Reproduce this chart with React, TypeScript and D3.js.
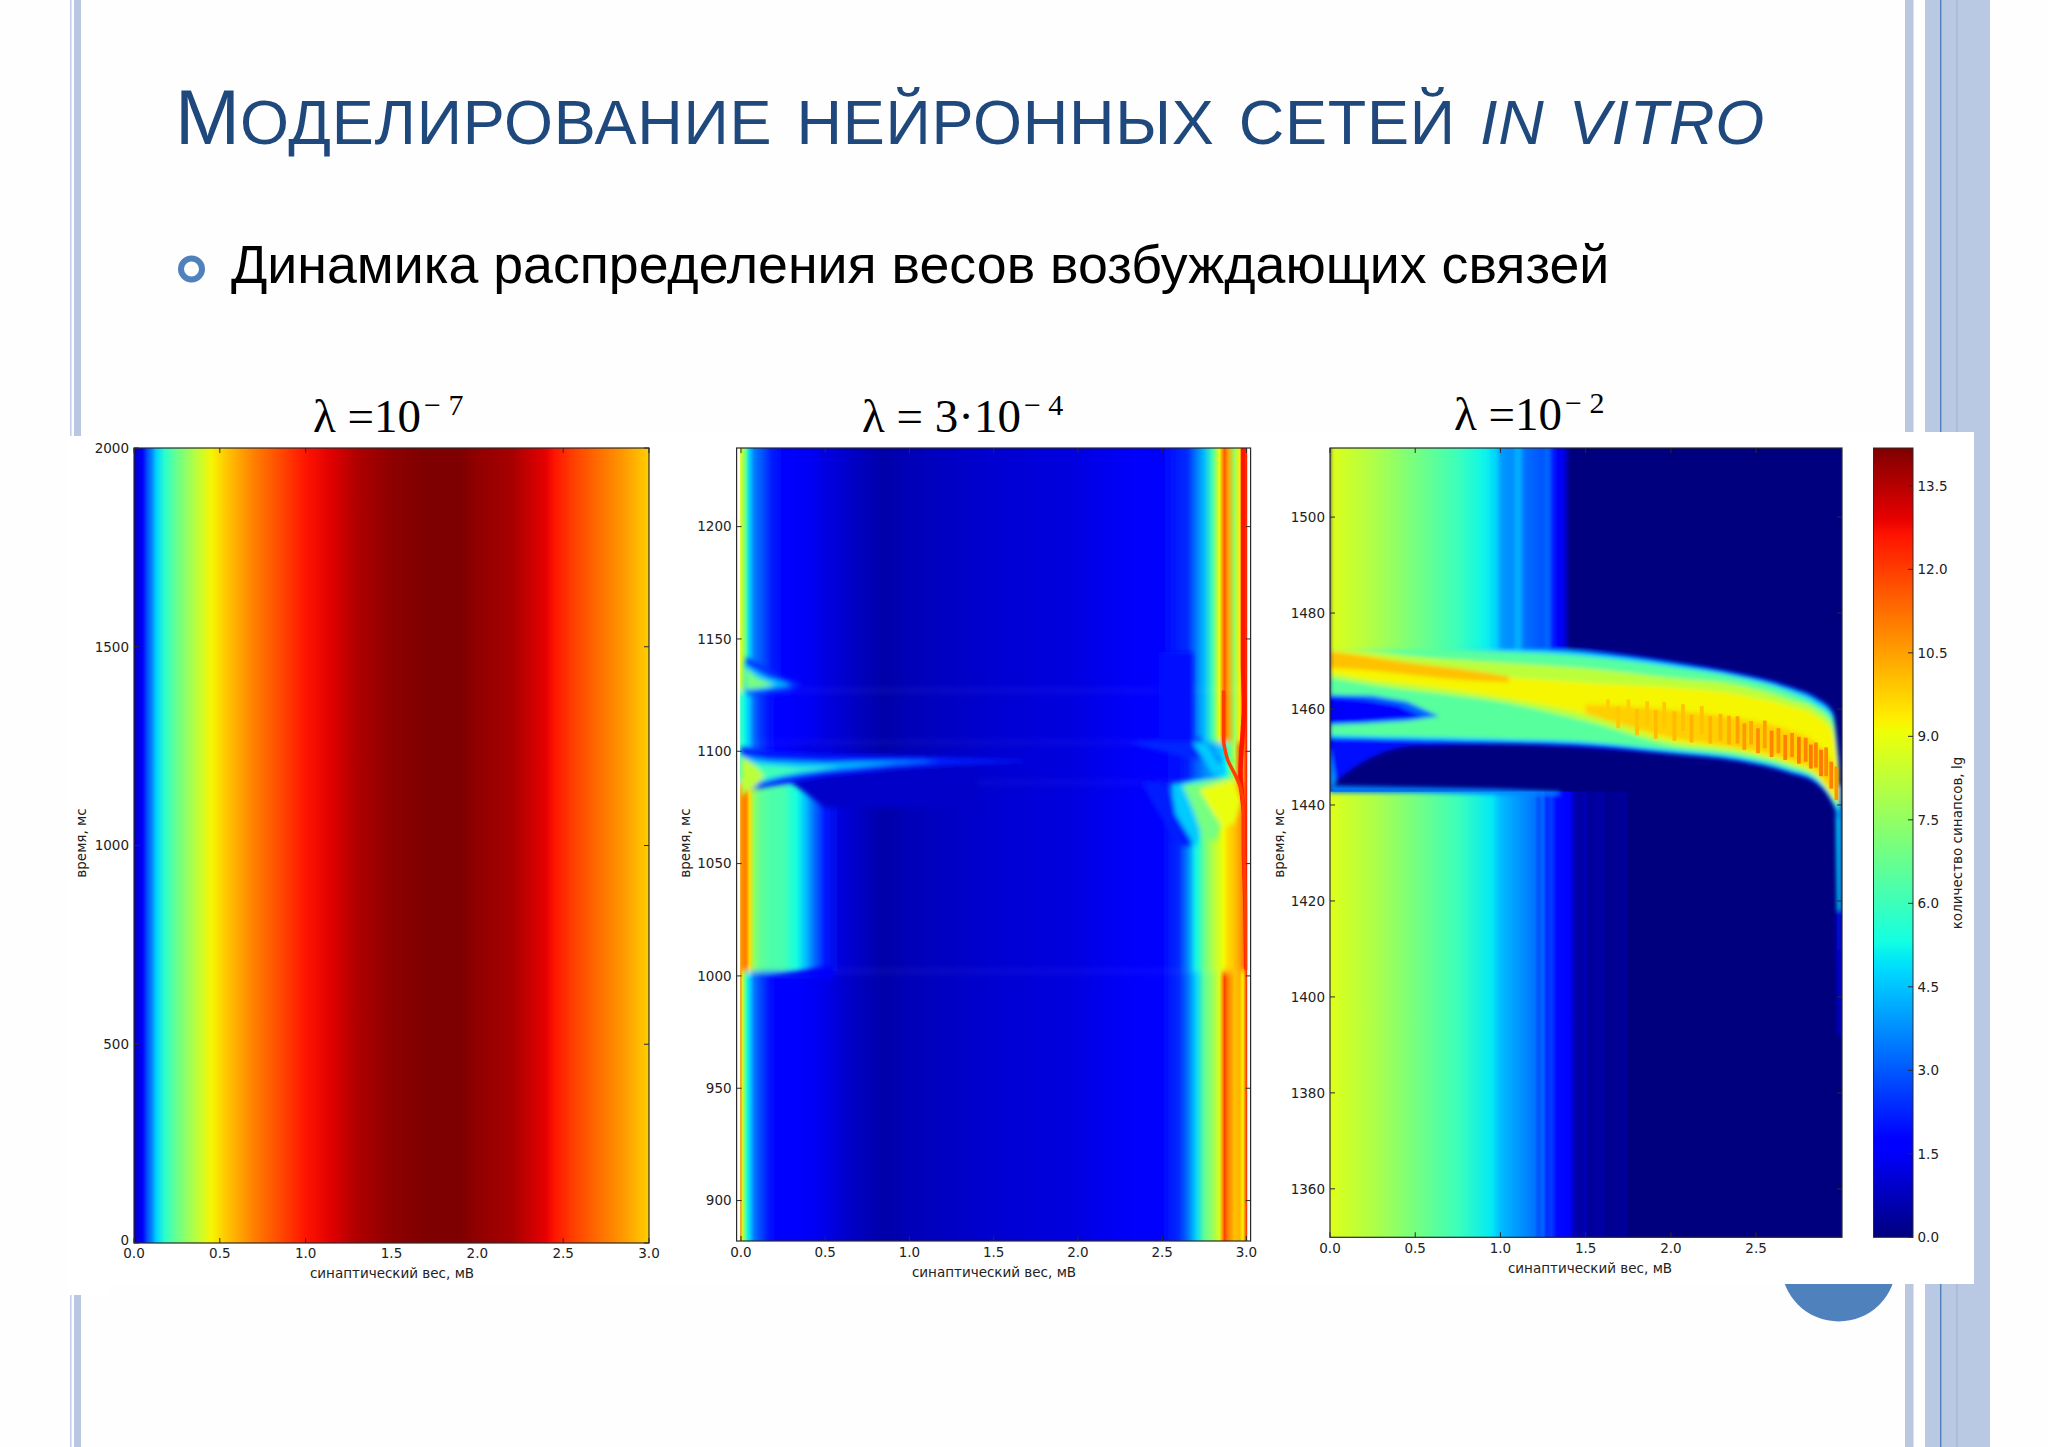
import React from 'react';
import * as d3 from 'd3';

// jet colormap, same breakpoints as matplotlib
const jetStops = [0, 0.11, 0.125, 0.34, 0.35, 0.375, 0.64, 0.65, 0.66, 0.89, 0.91, 1];
const jetColors = ['#00007f', '#0000ff', '#0000ff', '#00dbff', '#00e6f7', '#14ffe2', '#eeff08', '#f7f500', '#ffec00', '#ff1300', '#e80000', '#7f0000'];
const vMax = 14.18;
const cbTicks = [0, 1.5, 3, 4.5, 6, 7.5, 9, 10.5, 12, 13.5];

// panel 1: lambda = 1e-7, the profile does not change with time
const p1X = [0, 0.05, 0.08, 0.1, 0.13, 0.18, 0.25, 0.35, 0.45, 0.55, 0.7, 0.85, 1, 1.15, 1.3, 1.5, 1.7, 1.9, 2, 2.2, 2.3, 2.4, 2.45, 2.55, 2.7, 2.85, 3];
const p1V = [0.8, 1.6, 3, 3.5, 4.7, 5.7, 6.8, 8, 9.2, 10, 11, 11.8, 12.6, 13, 13.6, 14, 14.18, 14.18, 13.95, 13.7, 13.3, 12.9, 12.6, 12, 11.3, 10.6, 9.8];
const p1XTicks = [0, 0.5, 1, 1.5, 2, 2.5, 3];
const p1YTicks = [0, 500, 1000, 1500, 2000];

// panel 2: lambda = 3e-4, one profile per time range
const p2X = [-0.03, -0.01, 0.01, 0.03, 0.05, 0.08, 0.12, 0.18, 0.25, 0.33, 0.38, 0.43, 0.5, 0.6, 0.85, 1, 1.5, 2, 2.3, 2.5, 2.6, 2.65, 2.7, 2.75, 2.8, 2.84, 2.86, 2.87, 2.89, 2.93, 2.96, 2.98, 3, 3.03];
const p2Before = [11.5, 11.5, 8.5, 6, 4.8, 3.4, 2.7, 1.9, 1.6, 1.55, 1.5, 1.45, 1.3, 1, 0.5, 0.7, 1, 1.2, 1.5, 1.8, 2.4, 3.3, 4.7, 6.6, 7.6, 8.7, 10.8, 11.9, 11, 10, 10.2, 9.2, 12, 12];
const p2Stim = [10.5, 10.5, 10.8, 11, 9.6, 7.4, 6.6, 6.3, 6.2, 5.3, 4.5, 3.4, 2.1, 1.1, 0.5, 0.7, 1, 1.2, 1.5, 1.8, 2.4, 3.6, 5.2, 6.8, 8, 8.7, 9, 9.2, 9.6, 10, 10.5, 11, 12.3, 12.3];
const p2Shift = [6, 6, 5.6, 5, 4.4, 3.2, 2.5, 1.9, 1.6, 1.4, 1.3, 1.2, 1.2, 1, 0.5, 0.7, 1, 1.2, 1.5, 1.8, 2, 2.2, 3, 3.6, 4, 4.5, 4.8, 5, 6, 8, 11.5, 10.5, 12.3, 12.3];
const p2Quiet = [6, 6, 5.6, 5, 4.4, 3.2, 2.5, 1.9, 1.6, 1.5, 1.45, 1.4, 1.2, 1, 0.5, 0.7, 1, 1.2, 1.5, 1.8, 2.2, 2.4, 3.4, 4.4, 6.2, 9, 11.2, 11.5, 10.6, 7.6, 9.3, 10.8, 12.3, 12.3];
const p2After = [10, 9, 8, 6.5, 4.7, 3.5, 3, 2.2, 1.8, 1.5, 1.45, 1.4, 1.2, 1, 0.5, 0.7, 1, 1.2, 1.5, 1.8, 2.2, 2.4, 3.4, 4.4, 6.2, 9, 10.8, 11.5, 10.5, 7.6, 9.3, 10.8, 12.3, 12.3];
const p2Rows = [
  { from: 860, to: 1002, values: p2Before },
  { from: 1002, to: 1086, values: p2Stim },
  { from: 1086, to: 1104, values: p2Shift },
  { from: 1104, to: 1127, values: p2Quiet },
  { from: 1127, to: 1250, values: p2After },
];
const p2Patches = [
  { value: 1.5, x: [0.18, 0.55, 0.55, 0.18], t: [999.5, 1005, 999, 999] },
  { value: 0.9, x: [0.3, 0.5, 1.4, 1.4, 0.3], t: [1086, 1075, 1075, 1092, 1090] },
  { value: 2.4, x: [0.03, 0.25, 0.36, 0.28, 0.03], t: [1142, 1133, 1130, 1126, 1125.5] },
  { value: 4.4, x: [0.02, 0.16, 0.3, 0.14, 0.02], t: [1139, 1133, 1129.5, 1127.5, 1127] },
  { value: 7, x: [0.02, 0.1, 0.2, 0.1, 0.03], t: [1137.5, 1132.5, 1129.5, 1128, 1127.5] },
  { value: 2.2, x: [0, 0.15, 0.5, 0.9, 1.3, 1.75, 1.3, 0.9, 0.5, 0.25, 0], t: [1102, 1100, 1098.5, 1098, 1097, 1095.5, 1094, 1092, 1089, 1085.5, 1082] },
  { value: 4.4, x: [0, 0.16, 0.5, 0.9, 1.2, 0.9, 0.5, 0.25, 0], t: [1098, 1096, 1095, 1095.5, 1095.8, 1094.5, 1091.5, 1088.5, 1084] },
  { value: 6, x: [0, 0.15, 0.35, 0.6, 0.35, 0.2, 0], t: [1095, 1094, 1092.8, 1093, 1091, 1088.5, 1084] },
  { value: 8.2, x: [0, 0.08, 0.14, 0.08, 0], t: [1098, 1094, 1089, 1084, 1080] },
  { value: 2.3, x: [2.3, 2.72, 2.86, 2.6], t: [1104, 1106, 1095, 1098] },
  { value: 2, x: [2.48, 2.68, 2.68, 2.48], t: [1104, 1104, 1144, 1144] },
  { value: 2.2, x: [2.38, 2.5, 2.62, 2.68, 2.6, 2.45], t: [1086, 1086.5, 1075, 1058, 1058, 1076] },
  { value: 4.6, x: [2.68, 2.76, 2.88, 2.8], t: [1104, 1104, 1090, 1090] },
  { value: 4.6, x: [2.55, 2.8, 2.75, 2.7, 2.58], t: [1085.5, 1088, 1070, 1057, 1072] },
  { value: 7, x: [2.62, 2.9, 2.88, 2.82, 2.74, 2.68], t: [1085, 1088.5, 1075, 1060, 1062, 1075] },
  { value: 9, x: [2.72, 2.92, 2.97, 2.93, 2.86, 2.8], t: [1083, 1087.5, 1078, 1068, 1066, 1073] },
];
const p2RidgeT = [1003, 1030, 1060, 1072, 1085, 1090, 1096, 1100, 1105, 1112, 1127];
const p2RidgeX = [3, 2.995, 2.985, 2.985, 2.96, 2.93, 2.89, 2.875, 2.865, 2.865, 2.865];
const p2MainT = [1003, 1030, 1060, 1072, 1080, 1090, 1120, 1140, 1240];
const p2MainX = [3, 2.995, 2.985, 2.985, 2.975, 2.965, 2.985, 2.98, 2.98];
const p2XTicks = [0, 0.5, 1, 1.5, 2, 2.5, 3];
const p2YTicks = [900, 950, 1000, 1050, 1100, 1150, 1200];

// panel 3: lambda = 1e-2, the burst sits between two quiet profiles
const p3LowX = [0, 0.25, 0.5, 0.75, 0.95, 1, 1.1, 1.2, 1.22, 1.25, 1.27, 1.3, 1.33, 1.41, 1.42, 1.46, 1.5, 1.52, 1.6, 1.62, 1.74, 1.745, 2.9, 3];
const p3LowV = [8.8, 8, 7, 6, 5, 4.4, 3.9, 3.4, 2.9, 3.2, 2.4, 2.6, 1.9, 1.7, 1, 0.4, 0.7, 0.3, 0.5, 0.2, 0.35, 0, 0, 0];
const p3HighX = [0, 0.25, 0.5, 0.75, 0.9, 0.98, 1, 1.08, 1.09, 1.12, 1.13, 1.2, 1.27, 1.275, 1.285, 1.29, 1.33, 1.34, 1.38, 1.39, 1.4, 3];
const p3HighV = [8.8, 8, 7, 6, 5.2, 4.7, 3.9, 3.7, 4.3, 4.2, 3.4, 3.1, 2.9, 3.6, 3.6, 2.2, 1.9, 1.5, 1.3, 0.3, 0, 0];
const bandX = [0, 0.25, 0.5, 1, 1.5, 2, 2.4, 2.7, 2.85, 2.95, 2.985];
const bandOuter = [
  { value: 2, top: [1473.2, 1473.2, 1473.2, 1473, 1472.3, 1470, 1467.5, 1464.7, 1462.5, 1459.5, 1450], bottom: [1444, 1450, 1452.3, 1452.6, 1452, 1450.5, 1449, 1446.5, 1444.5, 1440, 1437] },
  { value: 4.6, top: [1473, 1473, 1473, 1472.6, 1471.8, 1469.5, 1467, 1464.2, 1462, 1459, 1449], bottom: [1454, 1453.8, 1453.6, 1453.2, 1452.7, 1451, 1449.5, 1447, 1445, 1440.5, 1437.5] },
  { value: 6.5, top: [1472.8, 1472.8, 1472.6, 1472, 1471, 1468.8, 1466.5, 1463.5, 1461, 1458, 1448], bottom: [1454.6, 1454.4, 1454.2, 1453.8, 1453.2, 1451.5, 1450, 1447.5, 1445.5, 1441, 1439] },
];
const bandInner = [
  { value: 8.2, top: [1472.6, 1472, 1471, 1469.7, 1468.5, 1466.5, 1465, 1462, 1460, 1456.5, 1447], bottom: [1466.5, 1465, 1463.8, 1461.5, 1457.5, 1452.5, 1450.8, 1448.2, 1446, 1441.5, 1440] },
  { value: 9.2, top: [1472.2, 1471, 1469.3, 1466.8, 1465.5, 1464.5, 1463, 1460.5, 1458.5, 1455, 1446], bottom: [1467.5, 1466, 1465, 1462.5, 1459, 1453.5, 1451.5, 1448.8, 1446.5, 1442, 1440.5] },
];
const hotX = [0, 0.25, 0.5, 0.8, 1.05];
const hotTop = [1472, 1470.8, 1469.5, 1468.2, 1466.8];
const hotBottom = [1468.6, 1468, 1467, 1466, 1465.6];
const warmX = [1.5, 2, 2.4, 2.7, 2.85, 2.95];
const warmTop = [1461, 1459.8, 1458, 1455.5, 1453, 1449];
const warmBottom = [1459, 1454, 1451.8, 1449.3, 1447, 1442.5];
const p3Patches = [
  { value: 2, x: [2.975, 3, 3, 2.985], t: [1418, 1418, 1392, 1392] },
  { value: 4.6, x: [2.965, 3, 3, 2.975], t: [1444, 1444, 1418, 1418] },
  { value: 3.6, x: [0, 0.5, 0.95, 1.35, 1.35, 0.5, 0], t: [1444, 1443.7, 1443.4, 1442.8, 1442, 1442.5, 1442.5] },
  { value: 4, x: [0, 0.035, 0.015, 0], t: [1452, 1444.5, 1444, 1444] },
  { value: 3.2, x: [0, 0.25, 0.45, 0.64, 0.45, 0.2, 0], t: [1463, 1462.8, 1461.6, 1458.5, 1457.5, 1457, 1456.7] },
  { value: 1.6, x: [0, 0.2, 0.4, 0.55, 0.35, 0.15, 0], t: [1462.5, 1462, 1460.8, 1458.2, 1457.8, 1457.2, 1457] },
];
// the orange streaks in the right half of the burst
const spikeX = [1.62, 1.68, 1.74, 1.79, 1.85, 1.9, 1.95, 2.01, 2.06, 2.11, 2.17, 2.22, 2.28, 2.33, 2.38, 2.42, 2.46, 2.5, 2.54, 2.58, 2.62, 2.66, 2.7, 2.74, 2.78, 2.81, 2.84, 2.87, 2.9, 2.93, 2.96];
const spikeTop = [1462, 1460.5, 1462, 1460, 1461.6, 1459.8, 1461.5, 1459.5, 1461, 1458.8, 1460.6, 1458.5, 1459, 1458.6, 1458.5, 1457, 1457.5, 1456, 1457.6, 1455.5, 1456, 1454.6, 1455, 1454.2, 1454, 1452.6, 1453, 1451.5, 1452, 1449, 1448];
const spikeBottom = [1458, 1456, 1457.4, 1454.5, 1456.5, 1453.8, 1456, 1453.4, 1455.4, 1453, 1454.8, 1452.8, 1453.4, 1452.6, 1452.8, 1451.5, 1452.6, 1450.8, 1451.8, 1450, 1450.8, 1449.4, 1450, 1448.6, 1449, 1447.6, 1447.8, 1446, 1446, 1443.4, 1441];
const spikeV = [9.8, 9.9, 9.8, 10, 9.9, 10.1, 9.9, 10.1, 10, 10.2, 10, 10.2, 10.2, 10.3, 10.5, 10.6, 10.4, 10.8, 10.5, 10.9, 10.7, 11, 10.8, 11.1, 10.9, 11.1, 10.9, 11.1, 10.8, 11, 10.7];
const p3XTicks = [0, 0.5, 1, 1.5, 2, 2.5];
const p3YTicks = [1360, 1380, 1400, 1420, 1440, 1460, 1480, 1500];

const titleCap = 'М';
const titleRest = 'ОДЕЛИРОВАНИЕ НЕЙРОННЫХ СЕТЕЙ ';
const titleItalic = 'IN VITRO';
const subtitle = 'Динамика распределения весов возбуждающих связей';
const xLabel = 'синаптический вес, мВ';
const yLabel = 'время, мс';
const cbLabel = 'количество синапсов, lg';

const W = 2048;
const H = 1447;
const TOP = 448;
const AXIS = '#2b2b2b';
const TEXT = '#222';
const TICK_FONT = '"DejaVu Sans", sans-serif';

const jet = d3.scaleLinear<string>().domain(jetStops.map(s => s * vMax)).range(jetColors);
const fmt = d3.format('.1f');

type Scale = d3.ScaleLinear<number, number>;

// row of a heatmap: a rect filled by a gradient with stops at the profile knots
const Row = ({ id, xs, values, x, y0, y1 }: { id: string; xs: number[]; values: number[]; x: Scale; y0: number; y1: number }) => {
  const [dx0, dx1] = x.domain();
  return (
    <g>
      <linearGradient id={id}>
        {xs.map((v, i) => (
          <stop key={i} offset={(v - dx0) / (dx1 - dx0)} stopColor={jet(values[i])} />
        ))}
      </linearGradient>
      <rect x={x.range()[0]} width={x.range()[1] - x.range()[0]} y={Math.min(y0, y1)} height={Math.abs(y1 - y0)} fill={`url(#${id})`} />
    </g>
  );
};

const Patch = ({ p, x, y }: { p: { value: number; x: number[]; t: number[] }; x: Scale; y: Scale }) => {
  const pts = p.x.map((v, i) => [x(v), y(p.t[i])] as [number, number]);
  return <path d={d3.line().curve(d3.curveLinearClosed)(pts) as string} fill={jet(p.value)} />;
};

const Band = ({ xs, top, bottom, value, x, y }: { xs: number[]; top: number[]; bottom: number[]; value: number; x: Scale; y: Scale }) => {
  const area = d3.area<number>()
    .curve(d3.curveMonotoneX)
    .x(d => x(d))
    .y0((_, j) => y(bottom[j]))
    .y1((_, j) => y(top[j]));
  return <path d={area(xs) as string} fill={jet(value)} />;
};

const Axes = ({ x, y, xTicks, yTicks, labelX, labelY, tickY, titleY, ylabelX }: any) => {
  const [l, r] = x.range();
  const [b, t] = y.range();
  return (
    <g fontFamily={TICK_FONT} fill={TEXT} fontSize={13.5}>
      <rect x={l} y={t} width={r - l} height={b - t} fill="none" stroke={AXIS} strokeWidth={1.2} />
      {xTicks.map((v: number) => (
        <g key={v}>
          <line x1={x(v)} x2={x(v)} y1={b} y2={b - 5} stroke={AXIS} />
          <line x1={x(v)} x2={x(v)} y1={t} y2={t + 5} stroke={AXIS} />
          <text x={x(v)} y={tickY} textAnchor="middle">{fmt(v)}</text>
        </g>
      ))}
      {yTicks.map((v: number) => (
        <g key={v}>
          <line x1={l} x2={l + 5} y1={y(v)} y2={y(v)} stroke={AXIS} />
          <line x1={r} x2={r - 5} y1={y(v)} y2={y(v)} stroke={AXIS} />
          <text x={l - 5} y={y(v) === b ? b - 3 : y(v)} dy="0.36em" textAnchor="end">{v}</text>
        </g>
      ))}
      <text x={labelX} y={titleY} textAnchor="middle">{xLabel}</text>
      <text transform={`translate(${ylabelX},${labelY}) rotate(-90)`} textAnchor="middle">{yLabel}</text>
    </g>
  );
};

const Lambda = ({ x, y, lead, exp }: { x: number; y: number; lead: string; exp: string }) => (
  <text x={x} y={y} fontFamily='"Liberation Serif", serif' fontSize={47} fill="#000">
    {lead}
    <tspan dy={-17} dx={3} fontSize={30}>{exp}</tspan>
  </text>
);

export default function App() {
  const x1 = d3.scaleLinear().domain([0, 3]).range([134, 649]);
  const y1 = d3.scaleLinear().domain([0, 2000]).range([1243, TOP]);
  const x2 = d3.scaleLinear().domain([-0.026, 3.025]).range([736.6, 1250.6]);
  const y2 = d3.scaleLinear().domain([882, 1235]).range([1241, TOP]);
  const x3 = d3.scaleLinear().domain([0, 3.004]).range([1330, 1842]);
  const y3 = d3.scaleLinear().domain([1349.9, 1514.4]).range([1237.3, TOP]);
  const yc = d3.scaleLinear().domain([0, vMax]).range([1237.3, TOP]);

  const ridge = d3.line().curve(d3.curveMonotoneY);

  return (
    <svg width={W} height={H} style={{ position: 'absolute', left: 0, top: 0, display: 'block' }}>
      <defs>
        <filter id="soft2" x="-10%" y="-10%" width="120%" height="120%"><feGaussianBlur stdDeviation="2.8" /></filter>
        <filter id="soft3" x="-10%" y="-10%" width="120%" height="120%"><feGaussianBlur stdDeviation="2" /></filter>
        <filter id="softer" x="-20%" y="-10%" width="140%" height="120%"><feGaussianBlur stdDeviation="0.5" /></filter>
        <filter id="softY" x="0%" y="-10%" width="100%" height="120%"><feGaussianBlur stdDeviation="0 3" /></filter>
        <clipPath id="c1"><rect x={134} y={TOP} width={515} height={795} /></clipPath>
        <clipPath id="c2"><rect x={x2(-0.005)} y={TOP} width={x2(3.005) - x2(-0.005)} height={793} /></clipPath>
        <clipPath id="c3"><rect x={1330} y={TOP} width={512} height={789.3} /></clipPath>
        <linearGradient id="cb" x1="0" x2="0" y1="1" y2="0">
          {jetStops.map((s, i) => <stop key={i} offset={s} stopColor={jetColors[i]} />)}
        </linearGradient>
      </defs>

      {/* slide background */}
      <rect width={W} height={H} fill="#fefefe" />
      <rect x={70} width={1.6} height={H} fill="#c4d0e6" />
      <rect x={74} width={7} height={H} fill="#b8c7e2" />
      <rect x={1905} width={8.5} height={H} fill="#bac7df" />
      <rect x={1925} width={65} height={H} fill="#bac9e3" />
      <rect x={1956} width={2} height={H} fill="#aebcd8" />
      <rect x={1940} width={1.4} height={H} fill="#4f81bd" />
      <circle cx={1838.7} cy={1264} r={57.5} fill="#4f81bd" />
      <rect x={100} y={432} width={1874} height={852} fill="#fff" />
      <rect x={69} y={436} width={40} height={859} fill="#fff" />

      <text x={175} y={144} fontFamily='"Liberation Sans", sans-serif' fill="#1f497d" wordSpacing={6}>
        <tspan fontSize={78}>{titleCap}</tspan>
        <tspan fontSize={63} letterSpacing={0.75}>{titleRest}</tspan>
        <tspan fontSize={63} fontStyle="italic" letterSpacing={0.75}>{titleItalic}</tspan>
      </text>
      <circle cx={191.5} cy={269} r={10.5} fill="none" stroke="#4f81bd" strokeWidth={6} />
      <text x={231} y={283} fontFamily='"Liberation Sans", sans-serif' fontSize={53.7} fill="#000">{subtitle}</text>

      <Lambda x={313} y={432} lead="λ =10" exp="− 7" />
      <Lambda x={862} y={432} lead="λ = 3·10" exp="− 4" />
      <Lambda x={1454} y={430} lead="λ =10" exp="− 2" />

      {/* panel 1 */}
      <g clipPath="url(#c1)">
        <Row id="p1" xs={p1X} values={p1V} x={x1} y0={y1(0)} y1={y1(2000)} />
      </g>
      <Axes x={x1} y={y1} xTicks={p1XTicks} yTicks={p1YTicks} tickY={1258} titleY={1278} labelX={392} labelY={843} ylabelX={86} />

      {/* panel 2 */}
      <g clipPath="url(#c2)">
        <g filter="url(#softY)">
          {p2Rows.map((r, i) => (
            <Row key={i} id={`p2-${i}`} xs={p2X} values={r.values} x={x2} y0={y2(r.from)} y1={y2(r.to)} />
          ))}
        </g>
        <g filter="url(#soft2)">
          {p2Patches.map((p, i) => <Patch key={i} p={p} x={x2} y={y2} />)}
        </g>
        <g filter="url(#softer)">
          <path d={ridge(p2MainT.map((t, i) => [x2(p2MainX[i]), y2(t)] as [number, number])) as string} fill="none" stroke={jet(12.6)} strokeWidth={4.5} />
          <path d={ridge(p2RidgeT.map((t, i) => [x2(p2RidgeX[i]), y2(t)] as [number, number])) as string} fill="none" stroke={jet(12)} strokeWidth={3.5} />
        </g>
      </g>
      <Axes x={x2} y={y2} xTicks={p2XTicks} yTicks={p2YTicks} tickY={1257} titleY={1277} labelX={994} labelY={843} ylabelX={690} />

      {/* panel 3 */}
      <g clipPath="url(#c3)">
        <rect x={1330} y={TOP} width={512} height={791} fill={jet(0)} />
        <Row id="p3l" xs={p3LowX} values={p3LowV} x={x3} y0={y3(1340)} y1={y3(1442.8)} />
        <g filter="url(#soft3)">
          {p3Patches.slice(0, 3).map((p, i) => <Patch key={i} p={p} x={x3} y={y3} />)}
          {bandOuter.map((b, i) => <Band key={i} xs={bandX} {...b} x={x3} y={y3} />)}
          <Row id="p3h" xs={p3HighX} values={p3HighV} x={x3} y0={y3(1472.4)} y1={y3(1530)} />
          {bandInner.map((b, i) => <Band key={i} xs={bandX} {...b} x={x3} y={y3} />)}
          <Band xs={hotX} top={hotTop} bottom={hotBottom} value={10} x={x3} y={y3} />
          <Band xs={warmX} top={warmTop} bottom={warmBottom} value={9.8} x={x3} y={y3} />
          {p3Patches.slice(3).map((p, i) => <Patch key={i} p={p} x={x3} y={y3} />)}
        </g>
        <g filter="url(#softer)">
          {spikeX.map((v, i) => (
            <rect key={i} x={x3(v)} width={x3(0.022) - x3(0)} y={y3(spikeTop[i])} height={y3(spikeBottom[i]) - y3(spikeTop[i])} fill={jet(spikeV[i])} />
          ))}
        </g>
      </g>
      <Axes x={x3} y={y3} xTicks={p3XTicks} yTicks={p3YTicks} tickY={1253} titleY={1273} labelX={1590} labelY={843} ylabelX={1284} />

      {/* colour bar */}
      <rect x={1873.5} y={TOP} width={39.5} height={789.3} fill="url(#cb)" stroke={AXIS} strokeWidth={1} />
      <g fontFamily={TICK_FONT} fontSize={13.5} fill={TEXT}>
        {cbTicks.map(v => (
          <g key={v}>
            <line x1={1913} x2={1908} y1={yc(v)} y2={yc(v)} stroke={AXIS} />
            <text x={1917.5} y={yc(v)} dy="0.36em">{fmt(v)}</text>
          </g>
        ))}
        <text transform="translate(1962,843) rotate(-90)" textAnchor="middle">{cbLabel}</text>
      </g>
    </svg>
  );
}
